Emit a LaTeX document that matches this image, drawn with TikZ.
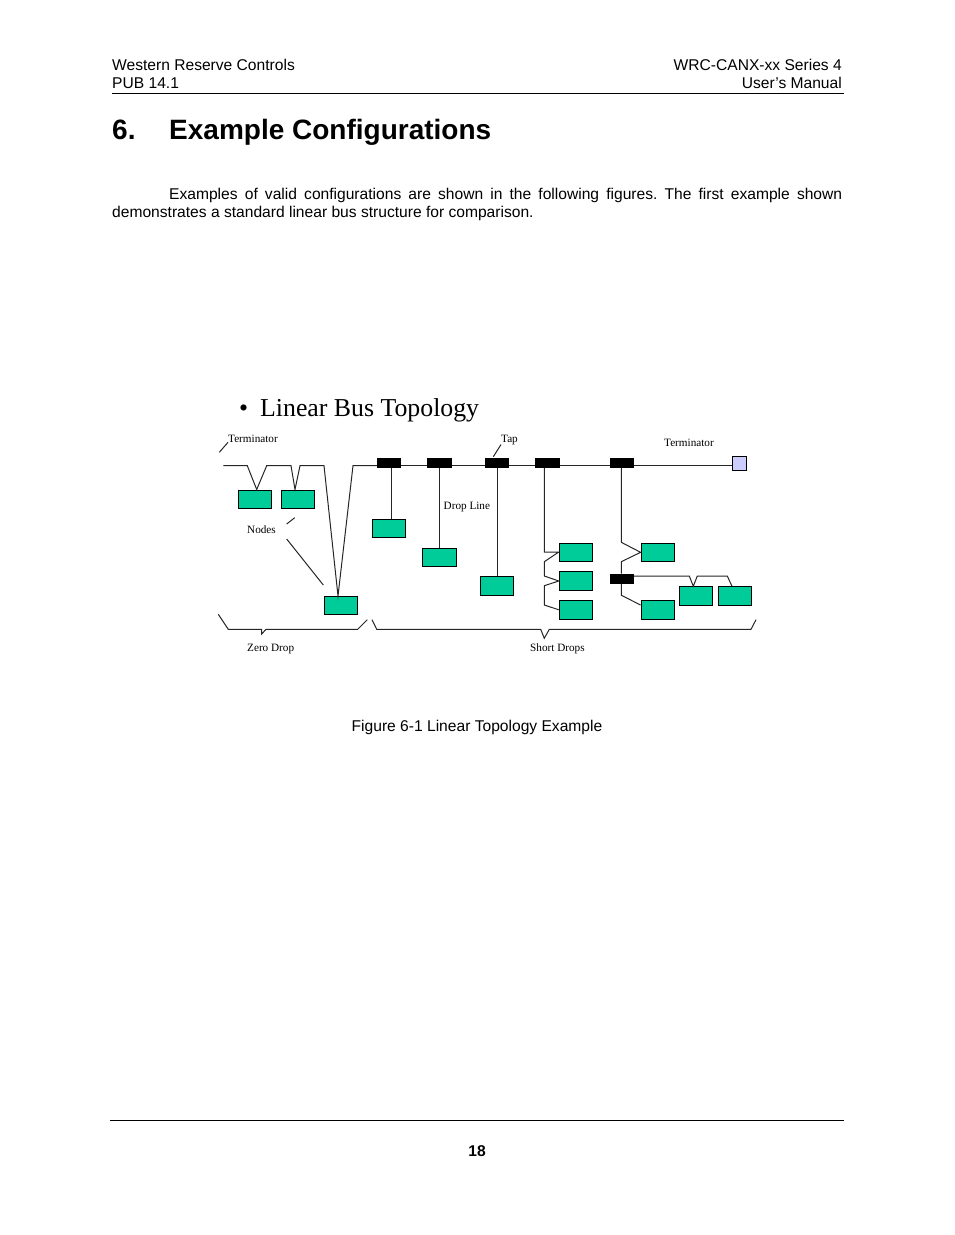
\documentclass[tikz,border=0pt]{standalone}
\usepackage{fontspec}
\setmainfont{Liberation Sans}
\newfontfamily\figfont{Liberation Serif}
\usepackage{xcolor}
\definecolor{nodeGreen}{RGB}{0,204,153}
\definecolor{termBlue}{RGB}{204,204,255}
\begin{document}
\frenchspacing
\begin{tikzpicture}[
  x=1pt,y=-1pt,
  pagetext/.style={anchor=base west,inner sep=0pt,font=\fontsize{15.6}{18}\selectfont},
  pageright/.style={anchor=base east,inner sep=0pt,font=\fontsize{15.6}{18}\selectfont},
  pagecenter/.style={anchor=base,inner sep=0pt,font=\fontsize{15.6}{18}\selectfont},
  label/.style={anchor=base west,inner sep=0pt,font=\figfont\fontsize{11.2}{13}\selectfont},
  busnode/.style={
    draw=black,
    fill=nodeGreen,
    line width=1pt,
    inner sep=0pt,
    minimum width=33.4pt,
    minimum height=18.4pt
  },
  tapbox/.style={
    fill=black,
    inner sep=0pt,
    minimum width=24pt,
    minimum height=10pt
  },
  wire/.style={draw=black!85,line width=1pt},
  rule/.style={draw=black,line width=0.8pt}
]
  \useasboundingbox (0,0) rectangle (954,1235);

  % page text
  \node[pagetext] (hdrA) at (112,70.5) {Western Reserve Controls};
  \node[pagetext] (hdrB) at (112,88.5) {PUB 14.1};
  \node[pageright] (hdrC) at (842,70.5) {WRC-CANX-xx Series 4};
  \node[pageright] (hdrD) at (842,88.5) {User’s Manual};
  \coordinate (hdrL) at (112,93.6);
  \coordinate (hdrR) at (844,93.6);
  \draw[rule] (hdrL) -- (hdrR);
  \node[pagetext,font=\fontsize{28}{32}\selectfont\bfseries] (secNum) at (112,139) {6.};
  \node[pagetext,font=\fontsize{28}{32}\selectfont\bfseries] (secTitle) at (169,139) {Example Configurations};
  \node[anchor=north west,inner sep=0pt,text width=730pt,align=justify,
    font=\fontsize{15.6}{18}\selectfont] (intro) at (112,188)
    {\hspace*{57pt}Examples of valid configurations are shown in the following figures. The first example shown demonstrates a standard linear bus structure for comparison.};
  \node[anchor=base west,inner sep=0pt,font=\figfont\fontsize{25.8}{30}\selectfont] (bullet) at (239,416) {•};
  \node[anchor=base west,inner sep=0pt,font=\figfont\fontsize{25.8}{30}\selectfont] (figTitle) at (260,416) {Linear Bus Topology};
  \node[pagecenter] (caption) at (477,731.5) {Figure 6-1 Linear Topology Example};
  \coordinate (ftrL) at (110,1120.5);
  \coordinate (ftrR) at (844,1120.5);
  \draw[rule] (ftrL) -- (ftrR);
  \node[pagecenter,font=\fontsize{15.6}{18}\selectfont\bfseries] (pageNum) at (477,1156.5) {18};

  % nodes
  \node[busnode] (zeroA) at (255,499.3) {};
  \node[busnode] (zeroB) at (298,499.3) {};
  \node[busnode] (zeroC) at (341,605.3) {};
  \node[busnode] (dropA) at (389,528.3) {};
  \node[busnode] (dropB) at (439.5,557.3) {};
  \node[busnode] (dropC) at (497,585.8) {};
  \node[busnode] (shortA) at (576,552.3) {};
  \node[busnode] (shortB) at (576,580.8) {};
  \node[busnode] (shortC) at (576,609.8) {};
  \node[busnode] (shortD) at (657.8,552.3) {};
  \node[busnode] (shortE) at (657.8,609.8) {};
  \node[busnode] (shortF) at (696,595.8) {};
  \node[busnode] (shortG) at (735,595.8) {};

  % taps and terminator
  \node[tapbox] (tapA) at (389,463) {};
  \node[tapbox,minimum width=25pt] (tapB) at (439.5,463) {};
  \node[tapbox] (tapC) at (497,463) {};
  \node[tapbox,minimum width=25pt] (tapD) at (547.5,463) {};
  \node[tapbox] (tapE) at (622,463) {};
  \node[tapbox] (tapF) at (622,578.8) {};
  \node[draw=black,fill=termBlue,line width=1pt,inner sep=0pt,minimum size=14.4pt] (termR) at (739.5,463.5) {};

  % bus
  \coordinate (termL) at (223.3,465.7);
  \draw[wire] (termL) -- (247.3,465.7) -- (256.7,489.5) -- (266.7,465.7) -- (291,465.7)
    -- (295,489.5) -- (300,465.7) -- (324,465.7) -- (338,596) -- (353,465.7) -- (tapA.west |- termL);
  \foreach \a/\b in {tapA/tapB,tapB/tapC,tapC/tapD,tapD/tapE}
    \draw[wire] (\a.east |- termL) -- (\b.west |- termL);
  \draw[wire] (tapE.east |- termL) -- (termR.west |- termL);

  % drops
  \draw[wire] ([xshift=2.7pt]tapA.south) -- ([xshift=2.7pt]dropA.north);
  \draw[wire] (tapB.south) -- (dropB.north);
  \draw[wire] (tapC.south) -- (dropC.north);
  \draw[wire] ([xshift=-3.2pt]tapD.south) -- (544.3,552) -- (shortA.west |- 0,552)
    -- (544.3,561.7) -- (544.3,576) -- (shortB.west |- 0,581) -- (544.3,585.7) -- (544.3,605) -- (shortC.west);
  \draw[wire] ([xshift=-0.7pt]tapE.south) -- (621.3,542.3) -- (shortD.west)
    -- (621.3,561.7) -- ([xshift=-0.7pt]tapF.north);
  \draw[wire] ([xshift=-0.7pt]tapF.south) -- (621.3,595.3) -- (shortE.west |- 0,605);
  \draw[wire] (tapF.east |- 0,576) -- (689.3,576) -- (693.3,586.3) -- (697.3,576) -- (727.3,576) -- (732,586.3);

  % labels and leaders
  \node[label] (lblTermL) at (228,442) {Terminator};
  \node[label] (lblTap) at (501,442) {Tap};
  \node[label] (lblTermR) at (664,446) {Terminator};
  \node[label] (lblDrop) at (443.5,509) {Drop Line};
  \node[label] (lblNodes) at (247,533) {Nodes};
  \node[label] (lblZero) at (247,651) {Zero Drop};
  \node[label] (lblShort) at (530,651) {Short Drops};
  \coordinate (leadTerm) at (219.3,452.3);
  \coordinate (leadTap) at (493.3,456.7);
  \draw[wire] (leadTerm) -- (lblTermL.south west);
  \draw[wire] (leadTap) -- (lblTap.south west);
  \draw[wire] (286.7,524) -- (294.7,517.7);
  \draw[wire] (286.7,539) -- (323.3,585);

  % braces
  \draw[wire] (218.3,614.3) -- (228.3,629.3) -- (261.7,629.3) -- (261.7,634) -- (266,629.3) -- (357.7,629.3) -- (367.3,619.7);
  \draw[wire] (372,619.7) -- (376.7,629.3) -- (540.7,629.3) -- (544.3,638.3) -- (549.3,629.3) -- (751,629.3) -- (756,619.7);
\end{tikzpicture}
\end{document}
